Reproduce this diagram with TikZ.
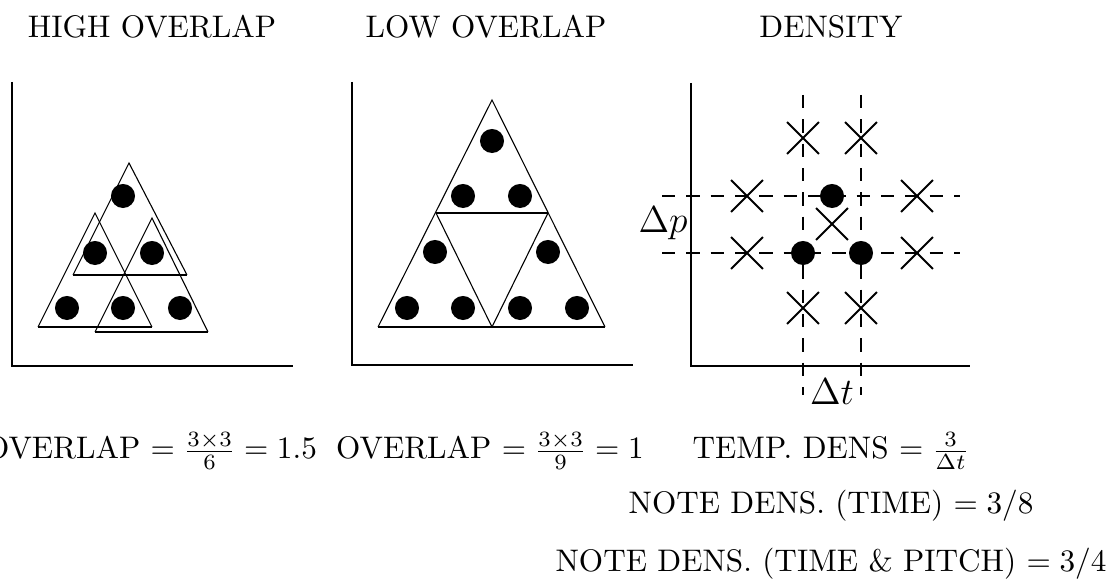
\documentclass[tikz,border=0pt]{standalone}
\usepackage{amsmath, amssymb}
\usetikzlibrary{shapes.misc}

\begin{document}
\begin{tikzpicture}[
  x=0.3205pt, y=-0.3205pt,
  axis/.style={line width=0.75pt},
  side/.style={line width=0.35pt},
  base/.style={line width=0.75pt},
  note/.style={circle, fill=black, inner sep=0pt, minimum size=7.7pt},
  cand/.style={cross out, draw, line width=0.6pt, inner sep=0pt, minimum size=9.6pt},
  dashline/.style={line width=0.6pt, dash pattern=on 4.3pt off 3.5pt},
  lbl/.style={anchor=base, inner sep=0pt},
]
\useasboundingbox (0,0) rectangle (1111,579);

% titles
\node[lbl] (tHigh) at (152,38) {HIGH OVERLAP};
\node[lbl] (tLow) at (486,38) {LOW OVERLAP};
\node[lbl] (tDens) at (831,38) {DENSITY};

% high overlap
\coordinate (hy) at (12,82);
\coordinate (ho) at (12,366);
\coordinate (hx) at (293,366);
\draw[axis] (hy) -- (ho) -- (hx);
\draw[side] (73,275) -- (129,163) -- (187,275);
\draw[base] (73,275) -- (187,275);
\draw[side] (38,327) -- (95,213) -- (152,327);
\draw[base] (38,327) -- (152,327);
\draw[side] (95,332) -- (152,218) -- (208,332);
\draw[base] (95,332) -- (208,332);
\node[note] (h1) at (123,196) {};
\node[note] (h2) at (95,253) {};
\node[note] (h3) at (152,253) {};
\node[note] (h4) at (67,308) {};
\node[note] (h5) at (123,308) {};
\node[note] (h6) at (180,308) {};

% low overlap
\coordinate (ly) at (352,82);
\coordinate (lo) at (352,365);
\coordinate (lx) at (633,365);
\draw[axis] (ly) -- (lo) -- (lx);
\draw[side] (378,327) -- (492,100) -- (605,327);
\draw[side] (436,213) -- (492,327) -- (548,213);
\draw[base] (378,327) -- (605,327);
\draw[base] (436,213) -- (548,213);
\node[note] (l1) at (492,141) {};
\node[note] (l2) at (463,196) {};
\node[note] (l3) at (520,196) {};
\node[note] (l4) at (435,252) {};
\node[note] (l5) at (407,308) {};
\node[note] (l6) at (463,308) {};
\node[note] (l7) at (548,252) {};
\node[note] (l8) at (520,308) {};
\node[note] (l9) at (577,308) {};

% density
\coordinate (dy) at (691,83);
\coordinate (do) at (691,366);
\coordinate (dx) at (970,366);
\draw[axis] (dy) -- (do) -- (dx);
\coordinate (v1a) at (803,95);
\coordinate (v1b) at (803,395);
\coordinate (v2a) at (861,95);
\coordinate (v2b) at (861,395);
\coordinate (p1a) at (662,196);
\coordinate (p1b) at (960,196);
\coordinate (p2a) at (662,253);
\coordinate (p2b) at (960,253);
\draw[dashline] (v1a) -- (v1b);
\draw[dashline] (v2a) -- (v2b);
\draw[dashline] (p1a) -- (p1b);
\draw[dashline] (p2a) -- (p2b);
\node[cand] (x1) at (803,138) {};
\node[cand] (x2) at (861,138) {};
\node[cand] (x3) at (747,196) {};
\node[cand] (x4) at (917,196) {};
\node[cand] (x5) at (747,253) {};
\node[cand] (x6) at (917,253) {};
\node[cand] (x7) at (803,308) {};
\node[cand] (x8) at (861,308) {};
\node[cand] (x9) at (832,224) {};
\node[note] (d1) at (832,196) {};
\node[note] (d2) at (803,253) {};
\node[note] (d3) at (861,253) {};
\node[lbl, font=\large] (dp) at (663,233) {$\Delta p$};
\node[lbl, font=\large] (dt) at (832,405) {$\Delta t$};

% formulas
\node[lbl] (fHigh) at (151,459) {OVERLAP $= \frac{3\times 3}{6} = 1.5$};
\node[lbl] (fLow) at (490,459) {OVERLAP $= \frac{3\times 3}{9} = 1$};
\node[lbl] (fTemp) at (831,459) {TEMP. DENS $= \frac{3}{\Delta t}$};
\node[lbl] (fTime) at (831,514) {NOTE DENS. (TIME) $= 3/8$};
\node[lbl] (fPitch) at (831,572) {NOTE DENS. (TIME \& PITCH) $= 3/4$};
\end{tikzpicture}
\end{document}
